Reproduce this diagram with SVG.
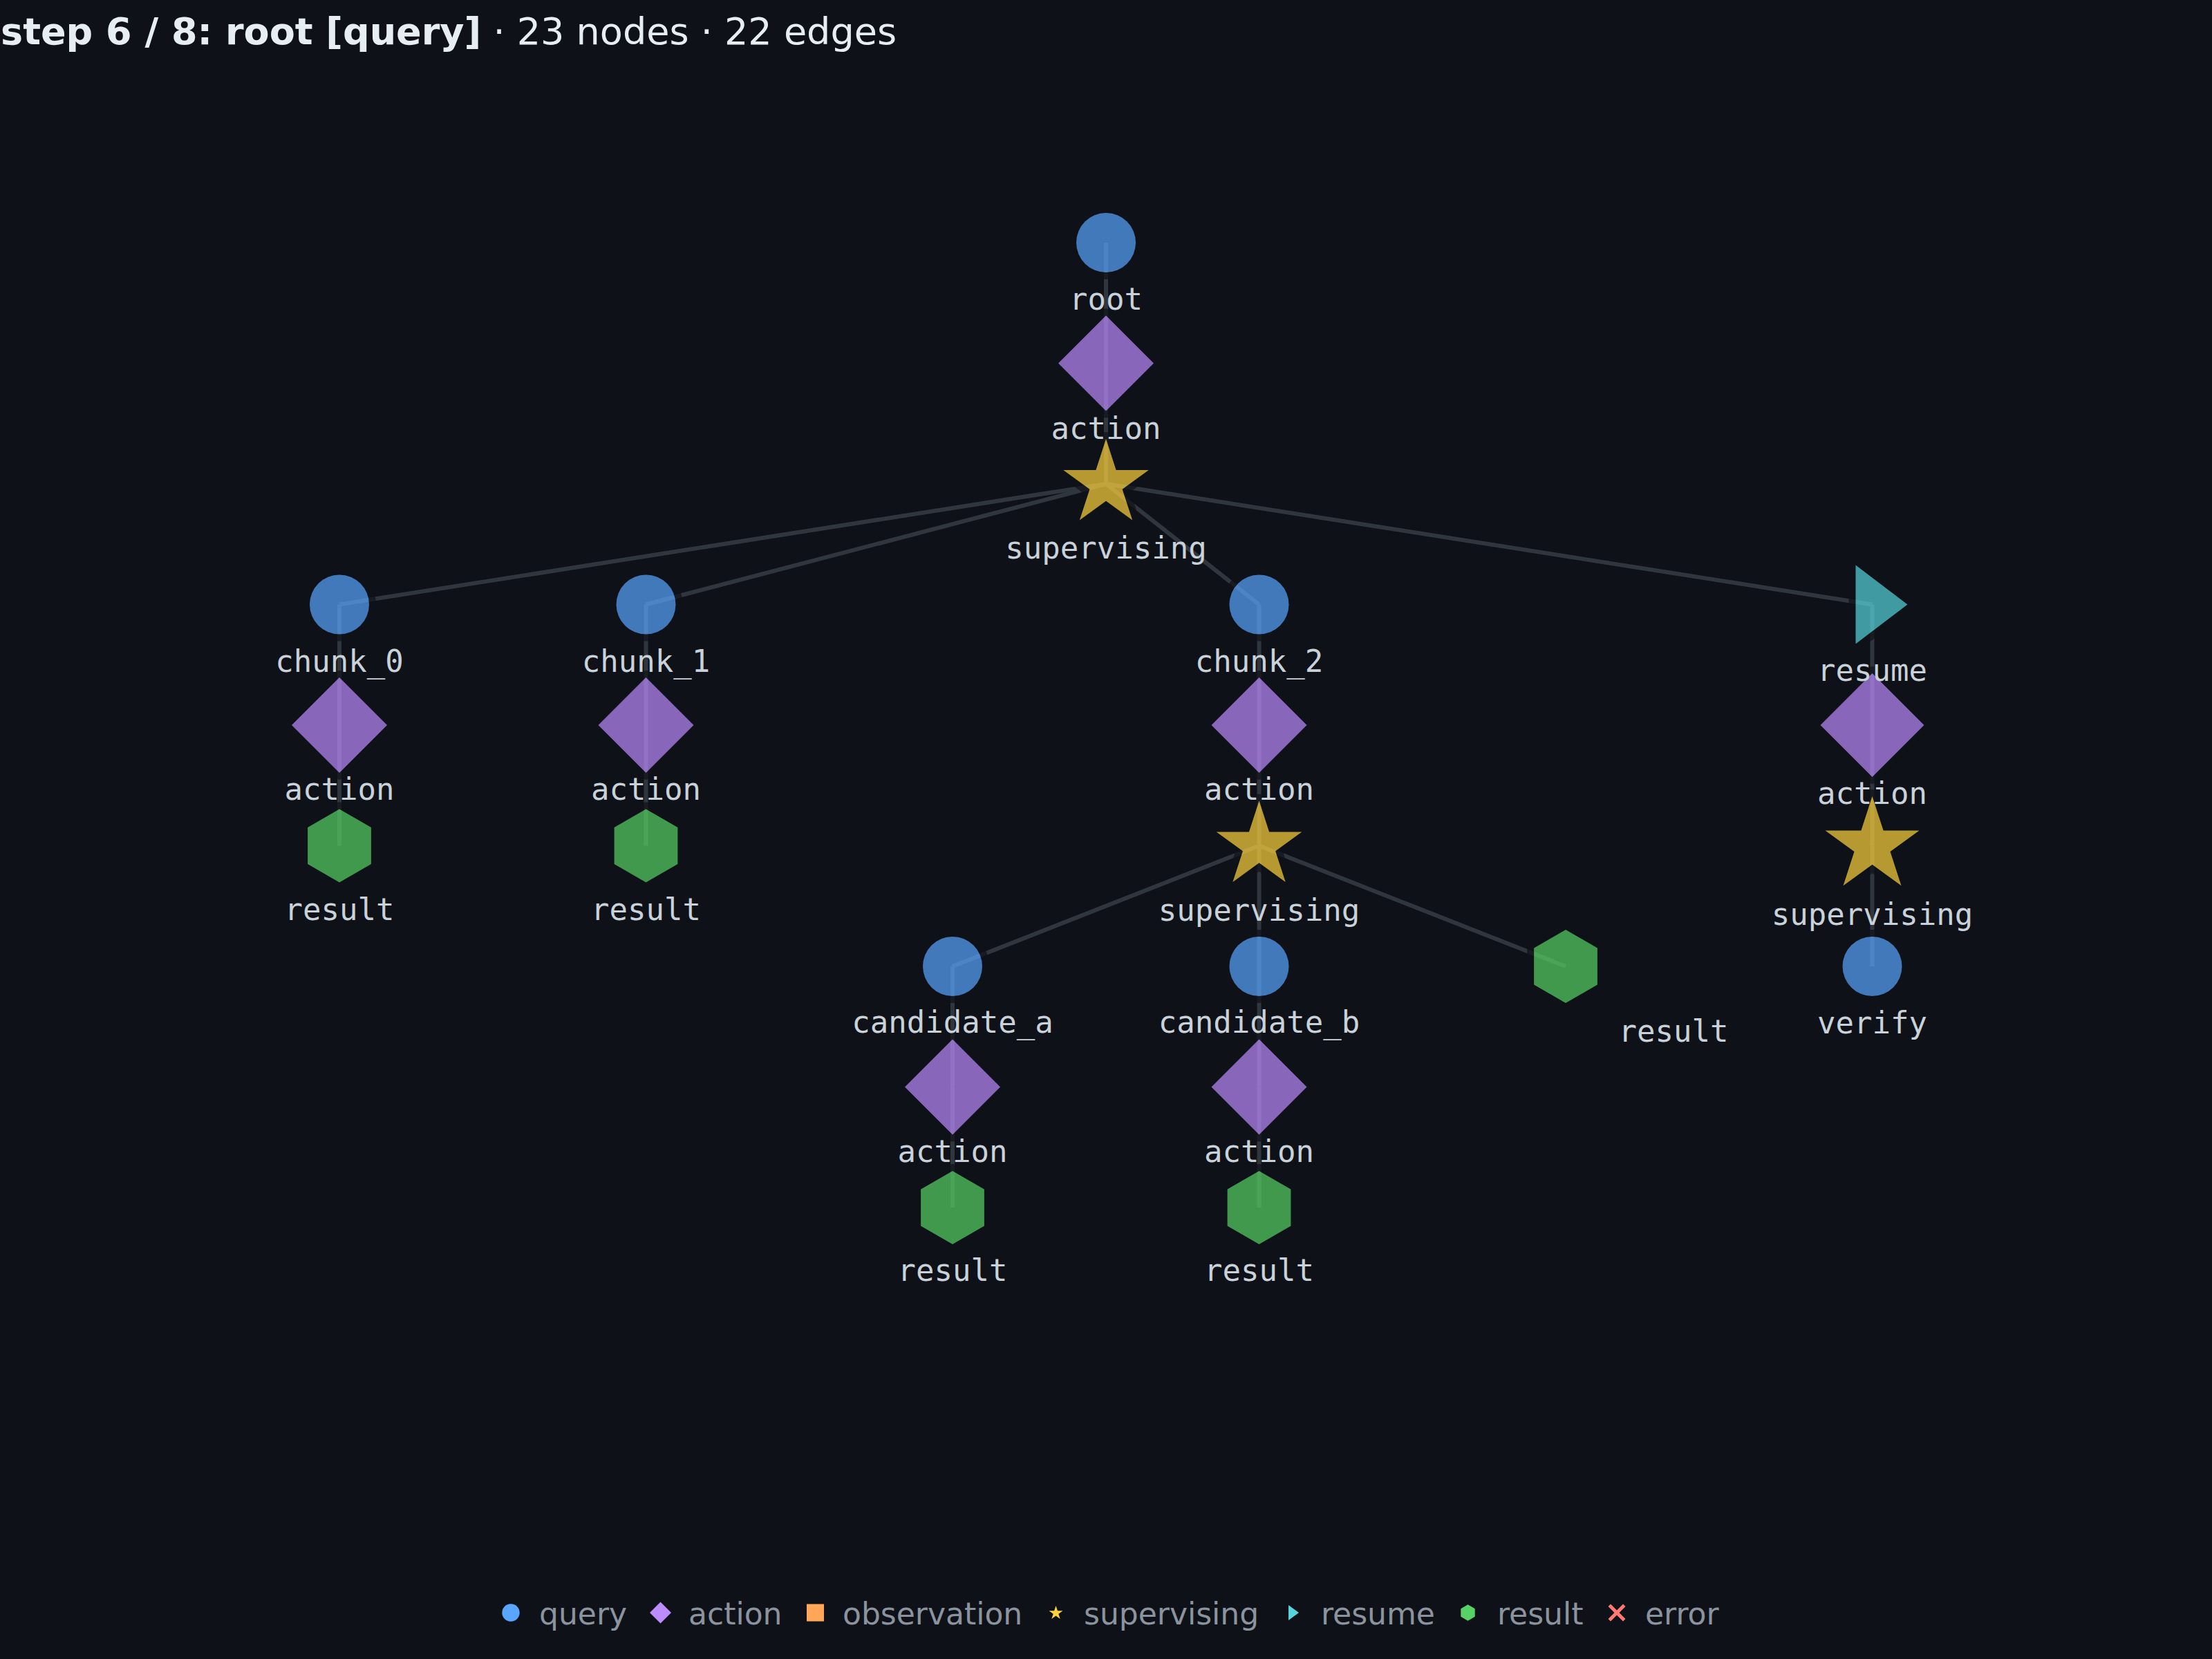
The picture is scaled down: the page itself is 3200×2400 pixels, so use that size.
<svg xmlns="http://www.w3.org/2000/svg" width="3200" height="2400" viewBox="0 0 3200 2400">
<style>
.bg{fill:#0e1117}
.title{font-family:"DejaVu Sans","Liberation Sans",sans-serif;font-size:54px;fill:#e6edf3}
.edge{stroke:#30363d;stroke-width:6;fill:none}
.shape{stroke:#0e1117;stroke-width:20;stroke-linejoin:round;paint-order:stroke;opacity:0.7}
.q{fill:#58a6ff}
.a{fill:#bc8cff}
.o{fill:#ffa657}
.s{fill:#ffd33d}
.r{fill:#56d4dd}
.h{fill:#56d364}
.e{fill:#ff7b72}
.lbl{font-family:"DejaVu Sans Mono","Liberation Mono",monospace;font-size:44px;fill:#c9d1d9;text-anchor:middle}
.leg{font-family:"DejaVu Sans","Liberation Sans",sans-serif;font-size:44px;fill:#8b949e}
</style>
<rect class="bg" x="0" y="0" width="3200" height="2400"/>
<text class="title" x="1" y="64"><tspan font-weight="bold">step 6 / 8: root [query]</tspan> · 23 nodes · 22 edges</text>

<g id="connectors">
<line class="edge" x1="1600" y1="351" x2="1600" y2="525.5"/>
<line class="edge" x1="1600" y1="525.5" x2="1600" y2="700"/>
<line class="edge" x1="1600" y1="700" x2="491" y2="874.5"/>
<line class="edge" x1="1600" y1="700" x2="934.5" y2="874.5"/>
<line class="edge" x1="1600" y1="700" x2="1821.5" y2="874.5"/>
<line class="edge" x1="1600" y1="700" x2="2708.5" y2="874.5"/>
<line class="edge" x1="491" y1="874.5" x2="491" y2="1049"/>
<line class="edge" x1="934.5" y1="874.5" x2="934.5" y2="1049"/>
<line class="edge" x1="1821.5" y1="874.5" x2="1821.5" y2="1049"/>
<line class="edge" x1="2708.5" y1="874.5" x2="2708.5" y2="1049"/>
<line class="edge" x1="491" y1="1049" x2="491" y2="1223.5"/>
<line class="edge" x1="934.5" y1="1049" x2="934.5" y2="1223.5"/>
<line class="edge" x1="1821.5" y1="1049" x2="1821.5" y2="1223.5"/>
<line class="edge" x1="2708.5" y1="1049" x2="2708.5" y2="1223.5"/>
<line class="edge" x1="1821.5" y1="1223.5" x2="1378" y2="1398"/>
<line class="edge" x1="1821.5" y1="1223.5" x2="1821.5" y2="1398"/>
<line class="edge" x1="1821.5" y1="1223.5" x2="2265" y2="1398"/>
<line class="edge" x1="2708.5" y1="1223.5" x2="2708.5" y2="1398"/>
<line class="edge" x1="1378" y1="1398" x2="1378" y2="1572.5"/>
<line class="edge" x1="1821.5" y1="1398" x2="1821.5" y2="1572.5"/>
<line class="edge" x1="1378" y1="1572.5" x2="1378" y2="1747"/>
<line class="edge" x1="1821.5" y1="1572.5" x2="1821.5" y2="1747"/>
</g>

<g id="nodes">
<g id="n-result-ca" transform="translate(1378,1747)">
<polygon class="shape h" points="45.9,-26.5 45.9,26.5 0,53 -45.9,26.5 -45.9,-26.5 0,-53"/>
<text class="lbl" y="106">result</text>
</g>
<g id="n-result-cb" transform="translate(1821.5,1747)">
<polygon class="shape h" points="45.9,-26.5 45.9,26.5 0,53 -45.9,26.5 -45.9,-26.5 0,-53"/>
<text class="lbl" y="106">result</text>
</g>
<g id="n-action-ca" transform="translate(1378,1572.5)">
<polygon class="shape a" points="0,-69 69,0 0,69 -69,0"/>
<text class="lbl" y="108">action</text>
</g>
<g id="n-action-cb" transform="translate(1821.5,1572.5)">
<polygon class="shape a" points="0,-69 69,0 0,69 -69,0"/>
<text class="lbl" y="108">action</text>
</g>
<g id="n-candidate_a" transform="translate(1378,1398)">
<circle class="shape q" r="43"/>
<text class="lbl" y="96">candidate_a</text>
</g>
<g id="n-candidate_b" transform="translate(1821.5,1398)">
<circle class="shape q" r="43"/>
<text class="lbl" y="96">candidate_b</text>
</g>
<g id="n-result-c2" transform="translate(2265,1398)">
<polygon class="shape h" points="45.9,-26.5 45.9,26.5 0,53 -45.9,26.5 -45.9,-26.5 0,-53"/>
<text class="lbl" x="156" y="109">result</text>
</g>
<g id="n-verify" transform="translate(2708.5,1398)">
<circle class="shape q" r="43"/>
<text class="lbl" y="97">verify</text>
</g>
<g id="n-result-c0" transform="translate(491,1223.5)">
<polygon class="shape h" points="45.9,-26.5 45.9,26.5 0,53 -45.9,26.5 -45.9,-26.5 0,-53"/>
<text class="lbl" y="107">result</text>
</g>
<g id="n-result-c1" transform="translate(934.5,1223.5)">
<polygon class="shape h" points="45.9,-26.5 45.9,26.5 0,53 -45.9,26.5 -45.9,-26.5 0,-53"/>
<text class="lbl" y="107">result</text>
</g>
<g id="n-supervising-c2" transform="translate(1821.5,1223.5)">
<polygon class="shape s" points="14.6,-20.1 61.8,-20.1 23.6,7.7 38.2,52.6 0,24.8 -38.2,52.6 -23.6,7.7 -61.8,-20.1 -14.6,-20.1 0,-65"/>
<text class="lbl" y="108">supervising</text>
</g>
<g id="n-supervising-resume" transform="translate(2708.5,1223.5)">
<polygon class="shape s" points="16.1,-22.1 68,-22.1 26,8.4 42,57.8 0,27.3 -42,57.8 -26,8.4 -68,-22.1 -16.1,-22.1 0,-71.5"/>
<text class="lbl" y="114">supervising</text>
</g>
<g id="n-action-c0" transform="translate(491,1049)">
<polygon class="shape a" points="0,-69 69,0 0,69 -69,0"/>
<text class="lbl" y="108">action</text>
</g>
<g id="n-action-c1" transform="translate(934.5,1049)">
<polygon class="shape a" points="0,-69 69,0 0,69 -69,0"/>
<text class="lbl" y="108">action</text>
</g>
<g id="n-action-c2" transform="translate(1821.5,1049)">
<polygon class="shape a" points="0,-69 69,0 0,69 -69,0"/>
<text class="lbl" y="108">action</text>
</g>
<g id="n-action-resume" transform="translate(2708.5,1049)">
<polygon class="shape a" points="0,-75 75,0 0,75 -75,0"/>
<text class="lbl" y="114">action</text>
</g>
<g id="n-chunk_0" transform="translate(491,874.5)">
<circle class="shape q" r="43"/>
<text class="lbl" y="97">chunk_0</text>
</g>
<g id="n-chunk_1" transform="translate(934.5,874.5)">
<circle class="shape q" r="43"/>
<text class="lbl" y="97">chunk_1</text>
</g>
<g id="n-chunk_2" transform="translate(1821.5,874.5)">
<circle class="shape q" r="43"/>
<text class="lbl" y="97">chunk_2</text>
</g>
<g id="n-resume" transform="translate(2708.5,874.5)">
<polygon class="shape r" points="-24,-57 51,0 -24,57"/>
<text class="lbl" y="110">resume</text>
</g>
<g id="n-supervising" transform="translate(1600,700)">
<polygon class="shape s" points="14.6,-20.1 61.8,-20.1 23.6,7.7 38.2,52.6 0,24.8 -38.2,52.6 -23.6,7.7 -61.8,-20.1 -14.6,-20.1 0,-65"/>
<text class="lbl" y="108">supervising</text>
</g>
<g id="n-action-root" transform="translate(1600,525.5)">
<polygon class="shape a" points="0,-69 69,0 0,69 -69,0"/>
<text class="lbl" y="109">action</text>
</g>
<g id="n-root" transform="translate(1600,351)">
<circle class="shape q" r="43"/>
<text class="lbl" y="97">root</text>
</g>
</g>

<g id="legend">
<circle class="q" cx="739" cy="2333" r="12.7"/>
<text class="leg" x="780" y="2350">query</text>
<polygon class="a" points="955.5,2317.5 971,2333 955.5,2348.5 940,2333"/>
<text class="leg" x="996" y="2350">action</text>
<rect class="o" x="1167" y="2320.5" width="25" height="25"/>
<text class="leg" x="1219" y="2350">observation</text>
<polygon class="s" transform="translate(1527.5,2333.5)" points="2.4,-3.2 10,-3.2 3.8,1.2 6.2,8.5 0,4 -6.2,8.5 -3.8,1.2 -10,-3.2 -2.4,-3.2 0,-10.5"/>
<text class="leg" x="1568" y="2350">supervising</text>
<polygon class="r" points="1864,2322 1879,2333 1864,2344"/>
<text class="leg" x="1911" y="2350">resume</text>
<polygon class="h" transform="translate(2123.5,2333)" points="10.2,-5.85 10.2,5.85 0,11.7 -10.2,5.85 -10.2,-5.85 0,-11.7"/>
<text class="leg" x="2166" y="2350">result</text>
<polygon class="e" transform="translate(2339,2333)" points="-12.5,-9 -9,-12.5 0,-3.5 9,-12.5 12.5,-9 3.5,0 12.5,9 9,12.5 0,3.5 -9,12.5 -12.5,9 -3.5,0"/>
<text class="leg" x="2380" y="2350">error</text>
</g>
</svg>
